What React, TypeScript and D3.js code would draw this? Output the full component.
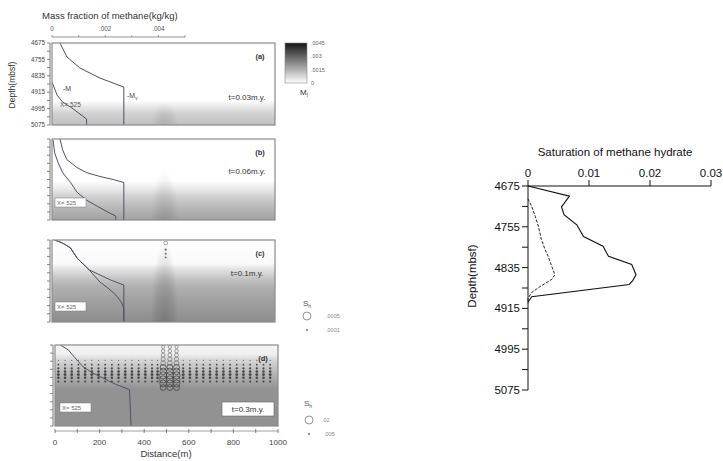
import React from 'react';
import * as d3 from 'd3';

// ---- left figure: time snapshots of methane field ----
const panelNames = ['(a)', '(b)', '(c)', '(d)'];
const panelTimes = ['t=0.03m.y.', 't=0.06m.y.', 't=0.1m.y.', 't=0.3m.y.'];
const panelTops = [43, 139, 240, 345];
const panelHeights = [82, 81, 82, 81];
const panelLefts = [52, 52, 52, 55];

const depthTicks = [4675, 4755, 4835, 4915, 4995, 5075];
const depthSmallTicks = [4675, 4715, 4755, 4795, 4835, 4875, 4915, 4955, 4995, 5035, 5075];
const massTicks = [0, 0.001, 0.002, 0.003, 0.004, 0.005];
const massTickLabels = ['0', '', '.002', '', '.004', ''];
const distTicks = [0, 100, 200, 300, 400, 500, 600, 700, 800, 900, 1000];
const distTickLabels = ['0', '', '200', '', '400', '', '600', '', '800', '', '1000'];
const colorbarTicks = [0.0045, 0.003, 0.0015, 0];
const colorbarLabels = ['.0045', '.003', '.0015', '0'];

// background methane mass fraction profile (depth, value) per panel
const fieldA = [[4675, 0], [4955, 0], [4990, 0.0005], [5020, 0.0009], [5075, 0.0012]];
const fieldB = [[4675, 0], [4880, 0], [4920, 0.0004], [4960, 0.0009], [5020, 0.0014], [5075, 0.0018]];
const fieldC = [[4675, 0], [4790, 0.0001], [4815, 0.0005], [4860, 0.0011], [4900, 0.0015], [4970, 0.0018], [5075, 0.0022]];
const fieldD = [[4675, 0.0002], [4720, 0.0003], [4750, 0.0008], [4805, 0.0013], [4845, 0.0017], [4895, 0.0021], [5075, 0.0021]];
const fields = [fieldA, fieldB, fieldC, fieldD];

// plume below x=500m: top depth and strength
const plumeCenter = 505;
const plumeTopDepth = [4960, 4820, 4680, 4700];
const plumeStrength = [0.2, 0.22, 0.38, 0];

// profiles at X=525 : [massFraction, depth]
const mvA = [[0.0003, 4675], [0.00056, 4743], [0.00105, 4797], [0.0018, 4846], [0.0027, 4890], [0.0027, 5075]];
const mA = [[0, 4865], [0.00019, 4929], [0.0004, 4963], [0.00075, 4992], [0.0013, 5046], [0.0013, 5075]];
const mvB = [[0.0003, 4675], [0.0004, 4729], [0.00056, 4777], [0.00094, 4816], [0.0013, 4841], [0.0018, 4860], [0.0023, 4875], [0.0027, 4890], [0.0027, 5075]];
const mB = [[0.00004, 4680], [0.0001, 4743], [0.00023, 4792], [0.0004, 4841], [0.0007, 4890], [0.00094, 4938], [0.0013, 4977], [0.0017, 5007], [0.0021, 5036], [0.0024, 5056], [0.0024, 5075]];
const mvC = [[0.0001, 4675], [0.0004, 4690], [0.0007, 4714], [0.00094, 4763], [0.0014, 4821], [0.0022, 4870], [0.0027, 4895], [0.0027, 5075]];
const mC = [[0.0001, 4675], [0.0004, 4690], [0.0007, 4714], [0.00094, 4763], [0.0014, 4821], [0.0018, 4880], [0.0021, 4909], [0.0024, 4943], [0.0026, 4977], [0.0027, 5007], [0.0027, 5075]];
const mD = [[0.0002, 4675], [0.0005, 4699], [0.00075, 4738], [0.00105, 4782], [0.0014, 4812], [0.0017, 4831], [0.002, 4851], [0.0023, 4870], [0.0028, 4895], [0.00286, 5075]];
const profiles = [[mvA, mA], [mvB, mB], [mvC, mC], [mD]];

// hydrate saturation markers
const shColsD = [15, 45, 75, 105, 135, 165, 195, 225, 255, 285, 315, 345, 375, 405, 435, 460, 575, 605, 635, 665, 695, 725, 755, 785, 815, 845, 875, 905, 935, 965];
const shRowDepthsD = [4750, 4772, 4790, 4806, 4821, 4837, 4855];
const shRowValuesD = [0.0025, 0.004, 0.005, 0.006, 0.007, 0.006, 0.0045];
const plumeColsD = [485, 515, 545];
const plumeDepthsD = [4685, 4705, 4725, 4745, 4765, 4785, 4805, 4825, 4845, 4865, 4885];
const plumeShD = [0.008, 0.009, 0.010, 0.011, 0.013, 0.016, 0.018, 0.02, 0.02, 0.019, 0.016];
const plumeDepthsC = [4690, 4722, 4742, 4760];
const plumeShC = [0.0003, 0.0001, 0.00009, 0.00008];

// ---- right chart: saturation of methane hydrate ----
const satTicks = [0, 0.01, 0.02, 0.03];
const satTickLabels = ['0', '0.01', '0.02', '0.03'];
const satDepthMinor = [4715, 4795, 4875, 4955, 5035];
const satSolid = [[4675, 0], [4695, 0.0068], [4716, 0.0055], [4731, 0.0059], [4751, 0.008], [4774, 0.0091], [4793, 0.0123], [4813, 0.0132], [4829, 0.017], [4849, 0.0177], [4860, 0.0172], [4868, 0.0166], [4892, 0.0006], [4903, 0]];
const satDashed = [[4700, 0], [4715, 0.0006], [4735, 0.0012], [4754, 0.0017], [4780, 0.0022], [4800, 0.0028], [4813, 0.0033], [4849, 0.0044], [4858, 0.0039], [4872, 0.002], [4884, 0.0006], [4895, 0], [4905, 0]];

const FONT = 'Liberation Sans, Arial, sans-serif';
const field = d3.scaleLinear<string>().domain([0, 0.0045]).range(['#ffffff', '#151515']);
const rD = d3.scaleLinear().domain([0, 0.005, 0.02]).range([0, 1.1, 3.6]);
const rC = d3.scaleLinear().domain([0, 0.0001, 0.0005]).range([0, 0.8, 3]);

const Panel = ({ i }: { i: number }) => {
  const top = panelTops[i], h = panelHeights[i], left = panelLefts[i], w = 223;
  const y = d3.scaleLinear().domain([4675, 5075]).range([top, top + h]);
  const xd = d3.scaleLinear().domain([0, 1000]).range([left, left + w]);
  const xm = d3.scaleLinear().domain([0, 0.005]).range([left, left + 133]);
  const line = d3.line<number[]>().x(d => xm(d[0])).y(d => y(d[1]));
  const gid = `fld${i}`;
  const pid = `plm${i}`;
  const pTop = y(plumeTopDepth[i]);
  return (
    <g>
      <defs>
        <linearGradient id={gid} x1="0" y1={top} x2="0" y2={top + h} gradientUnits="userSpaceOnUse">
          {fields[i].map((s, k) => (
            <stop key={k} offset={(y(s[0]) - top) / h} stopColor={field(s[1])} />
          ))}
        </linearGradient>
        <radialGradient id={pid}>
          <stop offset="0" stopColor="#555" stopOpacity={plumeStrength[i]} />
          <stop offset="0.6" stopColor="#555" stopOpacity={plumeStrength[i] * 0.5} />
          <stop offset="1" stopColor="#555" stopOpacity={0} />
        </radialGradient>
        <clipPath id={`clp${i}`}><rect x={left} y={top} width={w} height={h} /></clipPath>
      </defs>
      <rect x={left} y={top} width={w} height={h} fill={`url(#${gid})`} />
      <g clipPath={`url(#clp${i})`}>
        {plumeStrength[i] > 0 && (
          <ellipse cx={xd(plumeCenter)} cy={top + h + 4} rx={14} ry={top + h + 4 - pTop} fill={`url(#${pid})`} />
        )}
        {i === 3 && shRowDepthsD.map((dep, r) => shColsD.map(c => (
          <circle key={`${r}-${c}`} cx={xd(c)} cy={y(dep)} r={rD(shRowValuesD[r])} fill="#444" />
        )))}
        {i === 3 && plumeDepthsD.map((dep, r) => plumeColsD.map(c => (
          <circle key={`p${r}-${c}`} cx={xd(c)} cy={y(dep)} r={rD(plumeShD[r])} fill="none"
            stroke={r < 5 ? '#777' : '#3a3a3a'} strokeWidth={0.7} />
        )))}
        {i === 2 && plumeDepthsC.map((dep, r) => (
          <circle key={`c${r}`} cx={xd(510)} cy={y(dep)} r={rC(plumeShC[r])}
            fill={r === 0 ? 'none' : '#666'} stroke="#666" strokeWidth={0.6} />
        ))}
        {profiles[i].map((p, k) => (
          <path key={k} d={line(p as number[][]) || ''} fill="none" stroke="#4d5266" strokeWidth={1} />
        ))}
      </g>
      <rect x={left} y={top} width={w} height={h} fill="none" stroke="#8a8a8a" strokeWidth={1.2} />
      {/* left ticks */}
      <line x1={left - 2} x2={left - 2} y1={top} y2={top + h} stroke="#555" strokeWidth={0.8} />
      {depthSmallTicks.map(t => (
        <line key={t} x1={left - 5} x2={left - 2} y1={y(t)} y2={y(t)} stroke="#555" strokeWidth={0.7} />
      ))}
      {i === 0 && depthTicks.map(t => (
        <text key={t} x={left - 7} y={y(t) + 2.2} fontSize={6.3} textAnchor="end" fill="#444" fontFamily={FONT}>{t}</text>
      ))}
      <text x={left + w - 15} y={top + 16} fontSize={7.5} fontWeight="bold" textAnchor="middle" fill="#333" fontFamily={FONT}>{panelNames[i]}</text>
      {i === 3 ? (
        <g>
          <rect x={left + w - 56} y={top + 57} width={52} height={14} fill="#fff" stroke="#666" strokeWidth={0.6} />
          <text x={left + w - 30} y={top + 67} fontSize={8} textAnchor="middle" fill="#333" fontFamily={FONT}>{panelTimes[i]}</text>
        </g>
      ) : (
        <text x={left + w - 28} y={top + (i === 0 ? 57 : i === 1 ? 35 : 36)} fontSize={8} textAnchor="middle" fill="#333" fontFamily={FONT}>{panelTimes[i]}</text>
      )}
      {i === 0 ? (
        <text x={left + 8} y={top + 64} fontSize={6.5} fill="#555" fontFamily={FONT}>X=  525</text>
      ) : (
        <g>
          <rect x={left + (i === 3 ? 5 : 3)} y={top + (i === 1 ? 59 : i === 2 ? 62 : 58)} width={31} height={9} fill="#fff" stroke="#777" strokeWidth={0.5} />
          <text x={left + (i === 3 ? 7 : 5)} y={top + (i === 1 ? 66 : i === 2 ? 69 : 65)} fontSize={6} fill="#666" fontFamily={FONT}>X=  525</text>
        </g>
      )}
      {i === 0 && (
        <g fill="#444" fontFamily={FONT} fontSize={7}>
          <text x={left + 11} y={top + 48}>-M</text>
          <text x={left + 75} y={top + 55}>-M<tspan fontSize={4.5} dy={2}>v</tspan></text>
        </g>
      )}
    </g>
  );
};

const LeftFigure = () => {
  const xm = d3.scaleLinear().domain([0, 0.005]).range([52, 185]);
  const xd = d3.scaleLinear().domain([0, 1000]).range([55, 278]);
  const cb = d3.scaleLinear().domain([0, 0.0045]).range([83, 43]);
  const rL = d3.scaleLinear().domain([0, 0.005, 0.02]).range([0, 1, 4]);
  return (
    <g>
      <text x={42} y={19} fontSize={9.5} fill="#333" fontFamily={FONT}>Mass fraction of methane(kg/kg)</text>
      <line x1={52} x2={185} y1={37} y2={37} stroke="#777" strokeWidth={0.8} />
      {massTicks.map((t, k) => (
        <g key={t}>
          <line x1={xm(t)} x2={xm(t)} y1={35} y2={37} stroke="#777" strokeWidth={0.7} />
          <text x={xm(t)} y={31} fontSize={6.3} textAnchor="middle" fill="#555" fontFamily={FONT}>{massTickLabels[k]}</text>
        </g>
      ))}
      <text transform="translate(15,85) rotate(-90)" fontSize={8.5} textAnchor="middle" fill="#333" fontFamily={FONT}>Depth(mbsf)</text>
      {panelNames.map((_, i) => <Panel key={i} i={i} />)}
      {/* distance axis */}
      <line x1={55} x2={278} y1={431} y2={431} stroke="#888" strokeWidth={0.8} />
      {distTicks.map((t, k) => (
        <g key={t}>
          <line x1={xd(t)} x2={xd(t)} y1={429} y2={433} stroke="#666" strokeWidth={0.8} />
          <text x={xd(t)} y={445} fontSize={8} textAnchor="middle" fill="#444" fontFamily={FONT}>{distTickLabels[k]}</text>
        </g>
      ))}
      <text x={166} y={457} fontSize={9.5} textAnchor="middle" fill="#333" fontFamily={FONT}>Distance(m)</text>
      {/* colour bar */}
      <defs>
        <linearGradient id="cbar" x1="0" y1="1" x2="0" y2="0">
          {[0, 0.0015, 0.003, 0.0045].map(v => (
            <stop key={v} offset={v / 0.0045} stopColor={field(v)} />
          ))}
        </linearGradient>
      </defs>
      <rect x={285} y={43} width={22} height={40} fill="url(#cbar)" stroke="#888" strokeWidth={0.6} />
      {colorbarTicks.map((t, k) => (
        <text key={t} x={311} y={cb(t) + 2} fontSize={5.5} fill="#666" fontFamily={FONT}>{colorbarLabels[k]}</text>
      ))}
      <text x={300} y={95} fontSize={8} fill="#333" fontFamily={FONT}>M<tspan fontSize={5} dy={1.5}>l</tspan></text>
      {/* saturation legends */}
      <g fontFamily={FONT} fill="#555">
        <text x={303} y={306} fontSize={8}>S<tspan fontSize={5} dy={1.5}>h</tspan></text>
        <circle cx={307} cy={316} r={4} fill="none" stroke="#666" strokeWidth={0.7} />
        <circle cx={307} cy={330} r={0.9} fill="#666" />
        <text x={326} y={318} fontSize={5.5} fill="#888">.0005</text>
        <text x={326} y={332} fontSize={5.5} fill="#888">.0001</text>
        <text x={304} y={406} fontSize={8}>S<tspan fontSize={5} dy={1.5}>h</tspan></text>
        <circle cx={309} cy={420} r={rL(0.02)} fill="none" stroke="#666" strokeWidth={0.7} />
        <circle cx={309} cy={434} r={rL(0.005)} fill="#666" />
        <text x={322} y={422} fontSize={5.5} fill="#888">.02</text>
        <text x={324} y={436} fontSize={5.5} fill="#888">.005</text>
      </g>
    </g>
  );
};

const RightChart = () => {
  const x = d3.scaleLinear().domain([0, 0.03]).range([528, 711]);
  const y = d3.scaleLinear().domain([4675, 5075]).range([186, 390]);
  const line = d3.line<number[]>().x(d => x(d[1])).y(d => y(d[0]));
  return (
    <g fontFamily={FONT} fill="#111">
      <text x={615} y={156} fontSize={11.5} textAnchor="middle">Saturation of methane hydrate</text>
      <line x1={528} x2={711} y1={186} y2={186} stroke="#111" strokeWidth={1} />
      {satTicks.map((t, k) => (
        <g key={t}>
          <line x1={x(t)} x2={x(t)} y1={180} y2={186} stroke="#111" strokeWidth={1} />
          <text x={x(t)} y={177} fontSize={11.5} textAnchor="middle">{satTickLabels[k]}</text>
        </g>
      ))}
      <line x1={528} x2={528} y1={186} y2={390} stroke="#111" strokeWidth={1} />
      {depthTicks.map(t => (
        <g key={t}>
          <line x1={522} x2={528} y1={y(t)} y2={y(t)} stroke="#111" strokeWidth={1} />
          <text x={520} y={y(t) + 4} fontSize={11.5} textAnchor="end">{t}</text>
        </g>
      ))}
      {satDepthMinor.map(t => (
        <line key={t} x1={522} x2={528} y1={y(t)} y2={y(t)} stroke="#111" strokeWidth={1} />
      ))}
      <text transform="translate(476,276) rotate(-90)" fontSize={11.5} textAnchor="middle">Depth(mbsf)</text>
      <path d={line(satSolid) || ''} fill="none" stroke="#111" strokeWidth={1.1} />
      <path d={line(satDashed) || ''} fill="none" stroke="#222" strokeWidth={1} strokeDasharray="3,1.5" />
    </g>
  );
};

export default function App() {
  return (
    <svg width={723} height={461} style={{ position: 'absolute', left: 0, top: 0, background: '#fff' }}>
      <rect width={723} height={461} fill="#fff" />
      <LeftFigure />
      <RightChart />
    </svg>
  );
}
